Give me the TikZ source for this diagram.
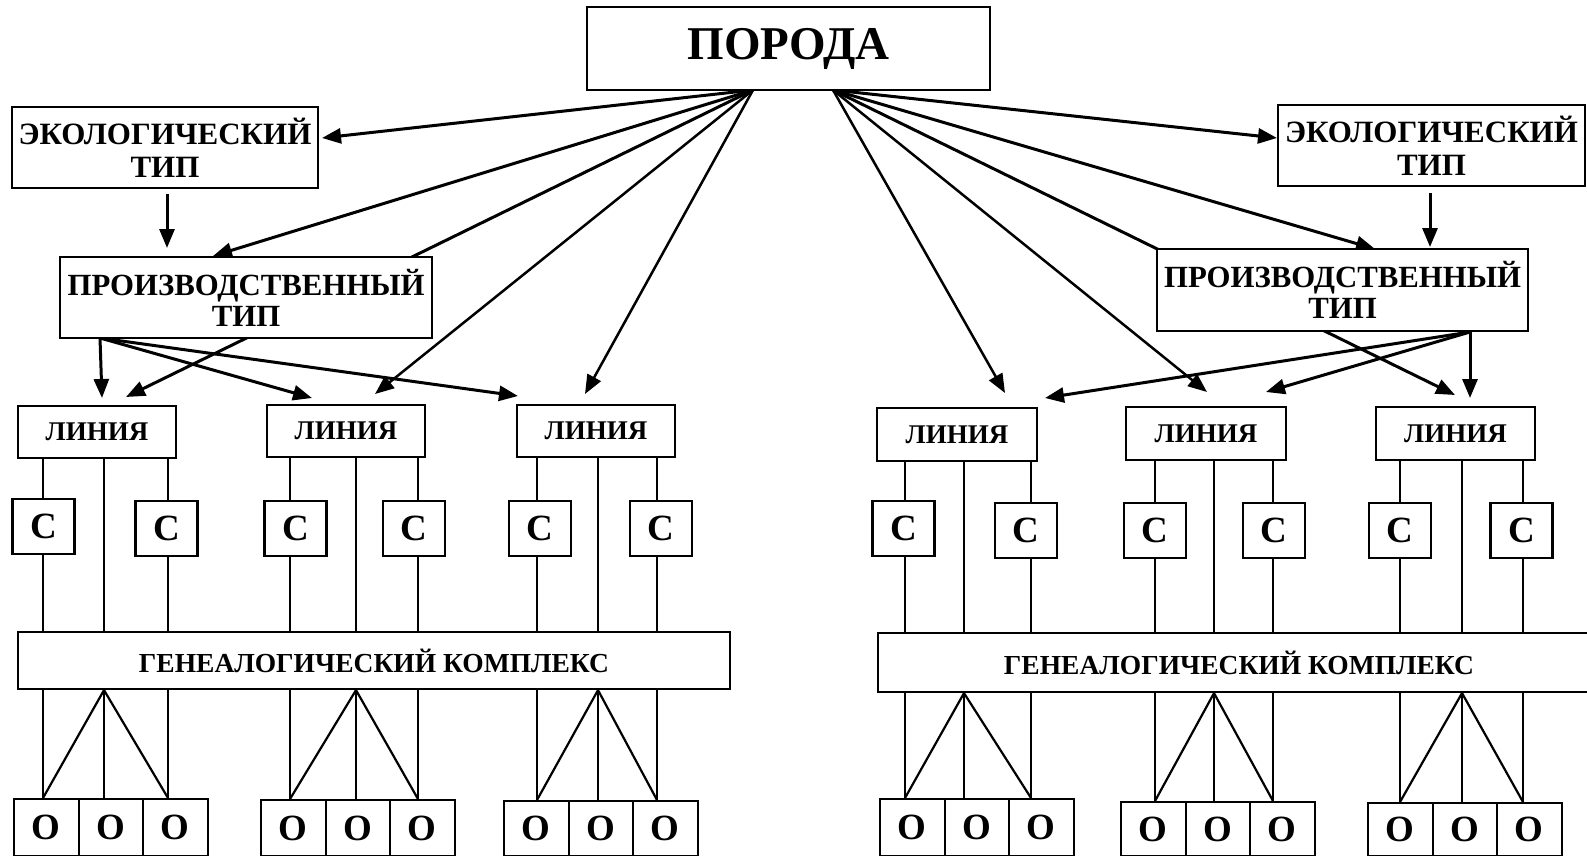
\documentclass[tikz,border=0pt]{standalone}
\usepackage{fontspec}
\setmainfont{Liberation Serif}
\usetikzlibrary{arrows.meta,backgrounds,calc}
\begin{document}
\begin{tikzpicture}[x=1pt,y=-1pt,
  box/.style={draw, line width=2.5pt, fill=white, inner sep=0pt, align=center},
  pbox/.style={box, font={\fontsize{47}{50}\selectfont\bfseries}},
  ebox/.style={box, font={\fontsize{31}{33}\selectfont\bfseries}},
  tbox/.style={box, font={\fontsize{30.8}{31}\selectfont\bfseries}},
  lbox/.style={box, minimum width=158, minimum height=52, font={\fontsize{27}{27}\selectfont\bfseries}},
  cbox/.style={box, line width=2.2pt, minimum width=62, minimum height=55, font={\fontsize{37}{37}\selectfont\bfseries}},
  gbox/.style={box, line width=2.2pt, font={\fontsize{27.5}{27.5}\selectfont\bfseries}},
  ocell/.style={box, line width=2.2pt, minimum width=64.5, font={\fontsize{37}{37}\selectfont\bfseries}},
  thk/.style={line width=3pt, -{Triangle[length=19pt,width=15pt]}},
  thn/.style={line width=2.5pt, -{Triangle[length=19pt,width=15pt]}},
  wire/.style={line width=2.2pt}
]
\useasboundingbox (0,0) rectangle (1587,856);

% main boxes
\node[pbox, minimum width=403, minimum height=83] (por) at (788.5,48.5) {ПОРОДА};
\node[ebox, minimum width=306, minimum height=81] (ecoL) at (165,147.5) {ЭКОЛОГИЧЕСКИЙ\\ТИП};
\node[ebox, minimum width=307, minimum height=81] (ecoR) at (1431.5,145.5) {ЭКОЛОГИЧЕСКИЙ\\ТИП};
\node[tbox, minimum width=372, minimum height=81] (prodL) at (246,297.5) {ПРОИЗВОДСТВЕННЫЙ\\ТИП};
\node[tbox, minimum width=371, minimum height=82] (prodR) at (1342.5,290) {ПРОИЗВОДСТВЕННЫЙ\\ТИП};

% lines (ЛИНИЯ)
\node[lbox] (lin1) at (97,432) {ЛИНИЯ};
\node[lbox] (lin2) at (346,431) {ЛИНИЯ};
\node[lbox] (lin3) at (596,431) {ЛИНИЯ};
\node[lbox, minimum width=160, minimum height=53] (lin4) at (957,434.5) {ЛИНИЯ};
\node[lbox, minimum width=160, minimum height=53] (lin5) at (1206,433.5) {ЛИНИЯ};
\node[lbox, minimum width=159, minimum height=53] (lin6) at (1455.5,433.5) {ЛИНИЯ};

% C boxes
\foreach \g/\xa/\ya/\xb/\yb in {1/43.5/526.5/166.5/528.5, 2/295.5/528.5/414/528.5, 3/540/528.5/661/528.5,
  4/903.5/528.5/1026/530.5, 5/1155/530.5/1274/530.5, 6/1400/530.5/1521.5/530.5} {
  \node[cbox] (ca\g) at (\xa,\ya) {С};
  \node[cbox] (cb\g) at (\xb,\yb) {С};
}

% genealogical complexes
\node[gbox, minimum width=712, minimum height=57] (genL) at (374,660.5) {ГЕНЕАЛОГИЧЕСКИЙ КОМПЛЕКС};
\node[gbox, minimum width=722, minimum height=59] (genR) at (1239,662.5) {ГЕНЕАЛОГИЧЕСКИЙ КОМПЛЕКС};

% O cells
\foreach \g/\sx/\ty in {1/13/798, 2/260/799, 3/503/800, 4/879/798, 5/1120/801, 6/1367/802} {
  \foreach \i in {0,1,2} {
    \pgfmathsetmacro{\hh}{855-\ty}
    \node[ocell, minimum height=\hh, anchor=north west] (o\g\i) at ({\sx+64.5*\i},\ty) {О};
  }
}

% anchor points
\coordinate (pL) at (753,90);
\coordinate (pR) at (833,90);
\coordinate (sPL) at (100,338);
\coordinate (sPR) at (1470,332);
\coordinate (tEL) at (322,138);
\coordinate (tPL) at (213,256);
\coordinate (tL1a) at (126,397);
\coordinate (tL2a) at (375,394);
\coordinate (tL3a) at (585,394);
\coordinate (tL1b) at (102,398);
\coordinate (tL2b) at (312,398);
\coordinate (tL3b) at (518,396);
\coordinate (tER) at (1277,138);
\coordinate (tPR) at (1375,249);
\coordinate (tL6a) at (1455,395);
\coordinate (tL5a) at (1207,392);
\coordinate (tL4a) at (1005,393);
\coordinate (tL6b) at (1470,398);
\coordinate (tL5b) at (1266,392);
\coordinate (tL4b) at (1045,398);

\begin{pgfonlayer}{background}
  % from ПОРОДА, left
  \draw[thk] (pL) -- (tEL);
  \draw[thk] (pL) -- (tPL);
  \draw[thk] (pL) -- (tL1a);
  \draw[thn] (pL) -- (tL2a);
  \draw[thn] (pL) -- (tL3a);
  % from ПОРОДА, right
  \draw[thk] (pR) -- (tER);
  \draw[thk] (pR) -- (tPR);
  \draw[thk] (pR) -- (tL6a);
  \draw[thn] (pR) -- (tL5a);
  \draw[thn] (pR) -- (tL4a);
  % ecological -> productive
  \draw[thk] (167,0 |- ecoL.south) ++(0,5) -- (167,248);
  \draw[thk] (1430,0 |- ecoR.south) ++(0,6) -- (1430,247);
  % productive -> lines
  \draw[thk] (sPL) -- (tL1b);
  \draw[thk] (sPL) -- (tL2b);
  \draw[thk] (sPL) -- (tL3b);
  \draw[thk] (sPR) -- (tL6b);
  \draw[thk] (sPR) -- (tL5b);
  \draw[thk] (sPR) -- (tL4b);
  % wires
  \foreach \g/\a/\b/\c/\s in {1/43/104/168/L, 2/290/356/418/L, 3/537/598/657/L,
     4/905/964/1031/R, 5/1155/1214/1273/R, 6/1400/1462/1523/R} {
    \draw[wire] (\a,0 |- lin\g.south) -- (\a,0 |- ca\g.north);
    \draw[wire] (\a,0 |- ca\g.south) -- (\a,0 |- gen\s.north);
    \draw[wire] (\b,0 |- lin\g.south) -- (\b,0 |- gen\s.north);
    \draw[wire] (\c,0 |- lin\g.south) -- (\c,0 |- cb\g.north);
    \draw[wire] (\c,0 |- cb\g.south) -- (\c,0 |- gen\s.north);
    \draw[wire] (\a,0 |- gen\s.south) -- (\a,0 |- o\g0.north);
    \draw[wire] (\b,0 |- gen\s.south) -- (\b,0 |- o\g1.north);
    \draw[wire] (\c,0 |- gen\s.south) -- (\c,0 |- o\g2.north);
    \draw[wire] (\a,0 |- o\g0.north) -- (\b,0 |- gen\s.south) -- (\c,0 |- o\g2.north);
  }
\end{pgfonlayer}
\end{tikzpicture}
\end{document}
